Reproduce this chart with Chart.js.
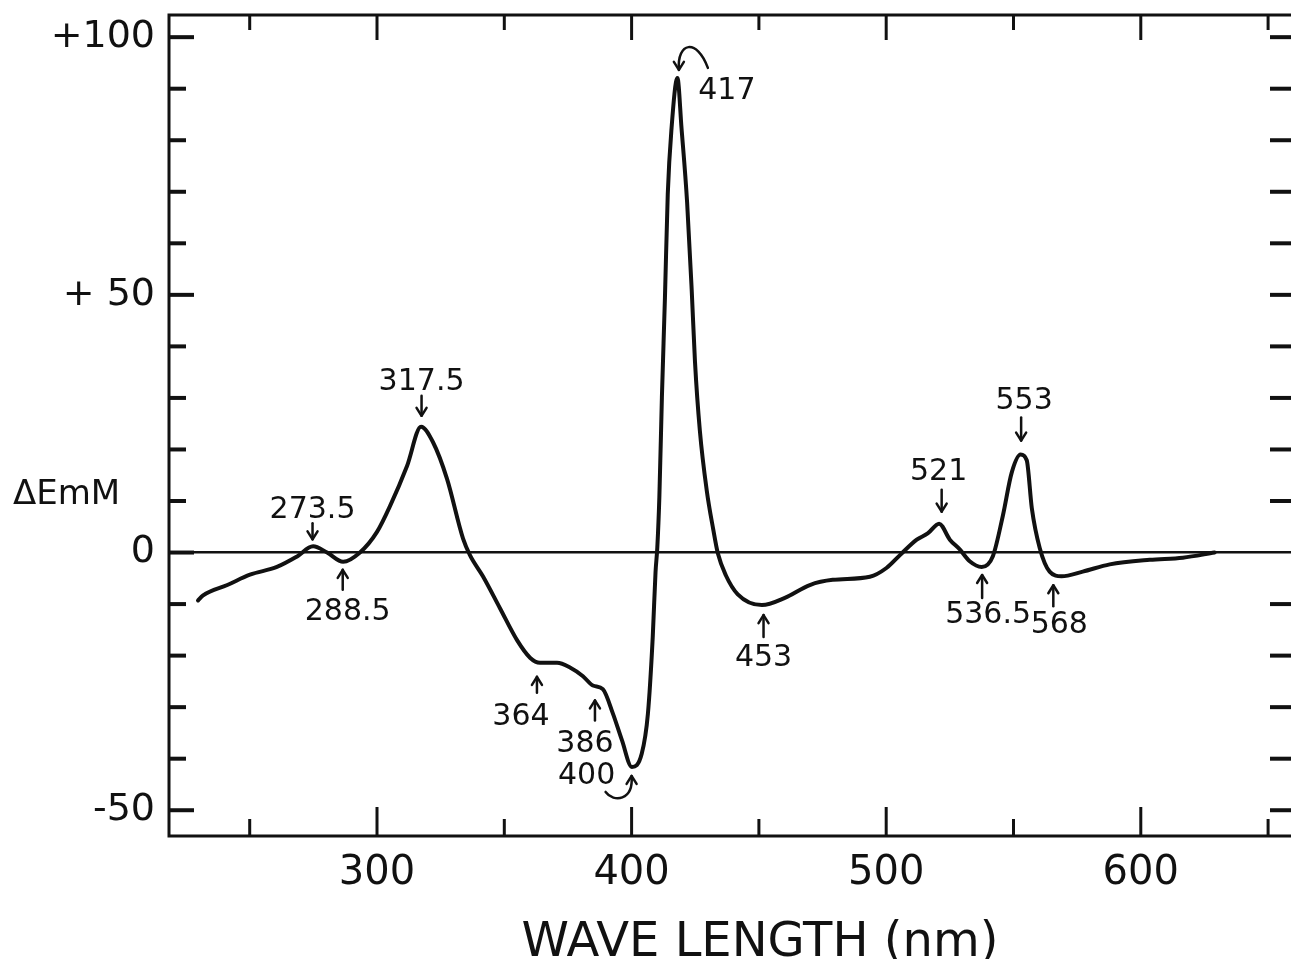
<!DOCTYPE html>
<html>
<head>
<meta charset="utf-8">
<script src="https://cdn.jsdelivr.net/npm/chart.js@4.4.0/dist/chart.umd.min.js"></script>
<style>
  html, body { margin: 0; padding: 0; background: #fff; overflow: hidden; }
  #wrap { position: relative; width: 1291px; height: 959px; }
</style>
</head>
<body>
<div id="wrap"><canvas id="spectrum"></canvas></div>
<script>
// difference spectrum (nm, ΔEmM)
const wavelength = [229.7, 231.7, 241.2, 250.1, 260.7, 268.5, 274.9, 280.4, 286.7, 293.3,
  300.0, 305.1, 311.8, 317.3, 322.0, 327.5, 333.8, 336.5, 341.6, 348.3,
  355.0, 360.1, 364.0, 370.7, 375.8, 380.9, 384.8, 388.7, 392.7, 396.2,
  400.1, 404.0, 406.4, 408.3, 409.4, 410.1, 410.9, 411.9, 413.1, 414.2,
  415.7, 418.0, 419.6, 421.8, 423.6, 424.9, 426.8, 429.5, 432.1, 433.9,
  437.0, 441.7, 451.2, 460.2, 470.0, 479.0, 493.6, 500.1, 505.4, 512.0,
  516.3, 520.8, 525.0, 528.9, 532.8, 537.5, 541.9, 545.8, 549.3, 552.8,
  555.2, 557.2, 560.3, 564.2, 568.9, 577.2, 587.8, 603.5, 616.5, 629.0];
const deltaE = [-9.3, -8.3, -6.3, -4.3, -2.8, -0.8, 1.2, 0.0, -1.8, 0.0,
  4.0, 9.0, 16.8, 24.4, 21.4, 14.3, 2.7, -0.5, -4.6, -10.8,
  -17.0, -20.4, -21.4, -21.4, -22.3, -24.0, -25.8, -26.5, -31.3, -36.4,
  -41.6, -39.0, -31.3, -16.4, -3.8, 1.0, 10.7, 30.1, 49.5, 69.5,
  82.4, 92.1, 82.4, 68.0, 51.0, 37.0, 23.7, 12.1, 4.4, -0.2,
  -4.4, -8.1, -10.2, -8.8, -6.3, -5.3, -4.7, -3.0, -0.5, 2.5,
  3.7, 5.6, 2.5, 0.6, -1.7, -2.8, -0.7, 7.1, 15.5, 19.0,
  17.9, 8.6, 0.9, -3.7, -4.6, -3.7, -2.3, -1.4, -1.0, 0.0];

const xTickValues = [300, 400, 500, 600];
const xMinorValues = [250, 350, 450, 550, 650];
const yTickValues = [-50, -40, -30, -20, -10, 0, 10, 20, 30, 40, 50, 60, 70, 80, 90, 100];
const yLabelValues = [100, 50, 0, -50];
const yLabelText = ['+100', '+ 50', '0', '-50'];

const peakWavelength = [273.5, 288.5, 317.5, 364, 386, 400, 417, 453, 521, 536.5, 553, 568];
const peakText = ['273.5', '288.5', '317.5', '364', '386', '400', '417', '453', '521', '536.5', '553', '568'];

const xTitle = 'WAVE LENGTH (nm)';
const yTitle = 'ΔEmM';

const INK = '#111';
const FONT = '"DejaVu Sans", "Liberation Sans", sans-serif';

// where each label / arrow sits around its point on the curve (pixels)
const peakLayout = {
  '273.5': { kind: 'down', ax: 3, tx: 3, ty: -36, tip: 7, tail: 23 },
  '288.5': { kind: 'up', ax: -5, tx: 0, ty: 50, tip: 8, tail: 28 },
  '317.5': { kind: 'down', ax: 0, tx: 0, ty: -45, tip: 11, tail: 31 },
  '364': { kind: 'up', ax: -3, tx: -19, ty: 54, tip: 14, tail: 30 },
  '386': { kind: 'up', ax: -1, tx: -11, ty: 56, tip: 12, tail: 32 },
  '400': { kind: 'hookUp', ax: 0, tx: -45, ty: 9 },
  '417': { kind: 'hookDown', ax: 4, tx: 52, ty: 13 },
  '453': { kind: 'up', ax: -3, tx: -3, ty: 53, tip: 10, tail: 32 },
  '521': { kind: 'down', ax: 2, tx: -1, ty: -51, tip: 12, tail: 34 },
  '536.5': { kind: 'up', ax: 3, tx: 9, ty: 48, tip: 8, tail: 31 },
  '553': { kind: 'down', ax: 0, tx: 3, ty: -53, tip: 14, tail: 37 },
  '568': { kind: 'up', ax: -6, tx: 0, ty: 49, tip: 9, tail: 30 }
};

function curveAt(w) {
  for (let i = 1; i < wavelength.length; i++) {
    if (wavelength[i] >= w) {
      const t = (w - wavelength[i - 1]) / (wavelength[i] - wavelength[i - 1]);
      return deltaE[i - 1] + t * (deltaE[i] - deltaE[i - 1]);
    }
  }
  return deltaE[deltaE.length - 1];
}

// highest (or lowest) point of the curve within 2 nm of w
function extremeNear(w, wantMax) {
  let best = curveAt(w);
  for (let d = -2; d <= 2; d += 0.1) {
    const v = curveAt(w + d);
    if (wantMax ? v > best : v < best) best = v;
  }
  return best;
}

function seg(ctx, x1, y1, x2, y2) {
  ctx.beginPath();
  ctx.moveTo(x1, y1);
  ctx.lineTo(x2, y2);
  ctx.stroke();
}

function head(ctx, x, y, dir) {
  // dir = 1 points down, -1 points up
  ctx.beginPath();
  ctx.moveTo(x - 5, y - 8 * dir);
  ctx.lineTo(x, y);
  ctx.lineTo(x + 5, y - 8 * dir);
  ctx.stroke();
}

const framePlugin = {
  id: 'frame',
  afterDraw(chart) {
    const { ctx, chartArea: a, scales: { x, y } } = chart;
    ctx.save();
    ctx.strokeStyle = INK;
    ctx.lineCap = 'butt';

    // box: left, top, bottom (right edge falls off the page)
    ctx.lineWidth = 3;
    ctx.beginPath();
    ctx.moveTo(a.right + 2, a.top);
    ctx.lineTo(a.left, a.top);
    ctx.lineTo(a.left, a.bottom);
    ctx.lineTo(a.right + 2, a.bottom);
    ctx.stroke();

    // inward tick marks
    ctx.lineWidth = 3;
    xTickValues.forEach(v => {
      const px = x.getPixelForValue(v);
      seg(ctx, px, a.bottom, px, a.bottom - 29);
      seg(ctx, px, a.top, px, a.top + 25);
    });
    xMinorValues.forEach(v => {
      const px = x.getPixelForValue(v);
      seg(ctx, px, a.bottom, px, a.bottom - 17);
      seg(ctx, px, a.top, px, a.top + 15);
    });
    ctx.lineWidth = 4;
    yTickValues.forEach(v => {
      const py = y.getPixelForValue(v);
      const len = v % 50 === 0 ? 25 : 17;
      seg(ctx, a.left, py, a.left + len, py);
      if (v !== 0) seg(ctx, a.right - 21, py, a.right, py);
    });

    // peak labels and arrows
    ctx.fillStyle = INK;
    ctx.font = '30px ' + FONT;
    ctx.textAlign = 'center';
    ctx.textBaseline = 'middle';
    ctx.lineWidth = 2.5;
    ctx.lineCap = 'round';
    ctx.lineJoin = 'round';
    peakWavelength.forEach((w, i) => {
      const L = peakLayout[peakText[i]];
      const isMax = L.kind === 'down' || L.kind === 'hookDown';
      const px = x.getPixelForValue(w) + L.ax;
      const py = y.getPixelForValue(extremeNear(w, isMax));
      ctx.fillText(peakText[i], px - L.ax + L.tx, py + L.ty);
      if (L.kind === 'down') {
        seg(ctx, px, py - L.tail, px, py - L.tip);
        head(ctx, px, py - L.tip, 1);
      } else if (L.kind === 'up') {
        seg(ctx, px, py + L.tail, px, py + L.tip);
        head(ctx, px, py + L.tip, -1);
      } else if (L.kind === 'hookUp') {
        ctx.beginPath();
        ctx.moveTo(px - 26, py + 25);
        ctx.bezierCurveTo(px - 18, py + 36, px + 2, py + 34, px, py + 9);
        ctx.stroke();
        head(ctx, px, py + 9, -1);
      } else if (L.kind === 'hookDown') {
        ctx.beginPath();
        ctx.moveTo(px + 29, py - 10);
        ctx.bezierCurveTo(px + 18, py - 40, px - 2, py - 36, px, py - 8);
        ctx.stroke();
        head(ctx, px, py - 8, 1);
      }
    });

    // axis titles
    ctx.textBaseline = 'alphabetic';
    ctx.font = '34px ' + FONT;
    ctx.textAlign = 'left';
    ctx.fillText(yTitle, 13, 504);
    ctx.font = '48px ' + FONT;
    ctx.textAlign = 'center';
    ctx.fillText(xTitle, 760, 956);
    ctx.restore();
  }
};

new Chart(document.getElementById('spectrum'), {
  type: 'line',
  data: {
    datasets: [{
      data: wavelength.map((w, i) => ({ x: w, y: deltaE[i] })),
      borderColor: INK,
      borderWidth: 4,
      borderJoinStyle: 'round',
      borderCapStyle: 'round',
      pointRadius: 0,
      cubicInterpolationMode: 'monotone',
      fill: false
    }]
  },
  options: {
    responsive: true,
    maintainAspectRatio: false,
    animation: false,
    layout: { padding: { top: 15, left: 0, right: 0, bottom: 0 } },
    plugins: { legend: { display: false }, tooltip: { enabled: false } },
    scales: {
      x: {
        type: 'linear',
        min: 218.3,
        max: 659,
        afterBuildTicks: s => { s.ticks = xTickValues.map(v => ({ value: v })); },
        afterFit: s => { s.height = 123; s.paddingLeft = 0; s.paddingRight = 0; },
        grid: { display: false, drawTicks: false },
        border: { display: false },
        ticks: {
          autoSkip: false,
          maxRotation: 0,
          padding: 14,
          color: INK,
          font: { family: FONT, size: 40 },
          callback: v => String(v)
        }
      },
      y: {
        type: 'linear',
        min: -55,
        max: 104.3,
        afterBuildTicks: s => { s.ticks = yTickValues.map(v => ({ value: v })); },
        afterFit: s => { s.width = 169; s.paddingTop = 0; s.paddingBottom = 0; },
        grid: {
          drawTicks: false,
          lineWidth: 2.5,
          color: c => (c.tick && c.tick.value === 0 ? INK : 'rgba(0,0,0,0)')
        },
        border: { display: false },
        ticks: {
          autoSkip: false,
          padding: 14,
          color: INK,
          font: { family: FONT, size: 38 },
          callback: v => {
            const k = yLabelValues.indexOf(v);
            return k >= 0 ? yLabelText[k] : '';
          }
        }
      }
    }
  },
  plugins: [framePlugin]
});
</script>
</body>
</html>
